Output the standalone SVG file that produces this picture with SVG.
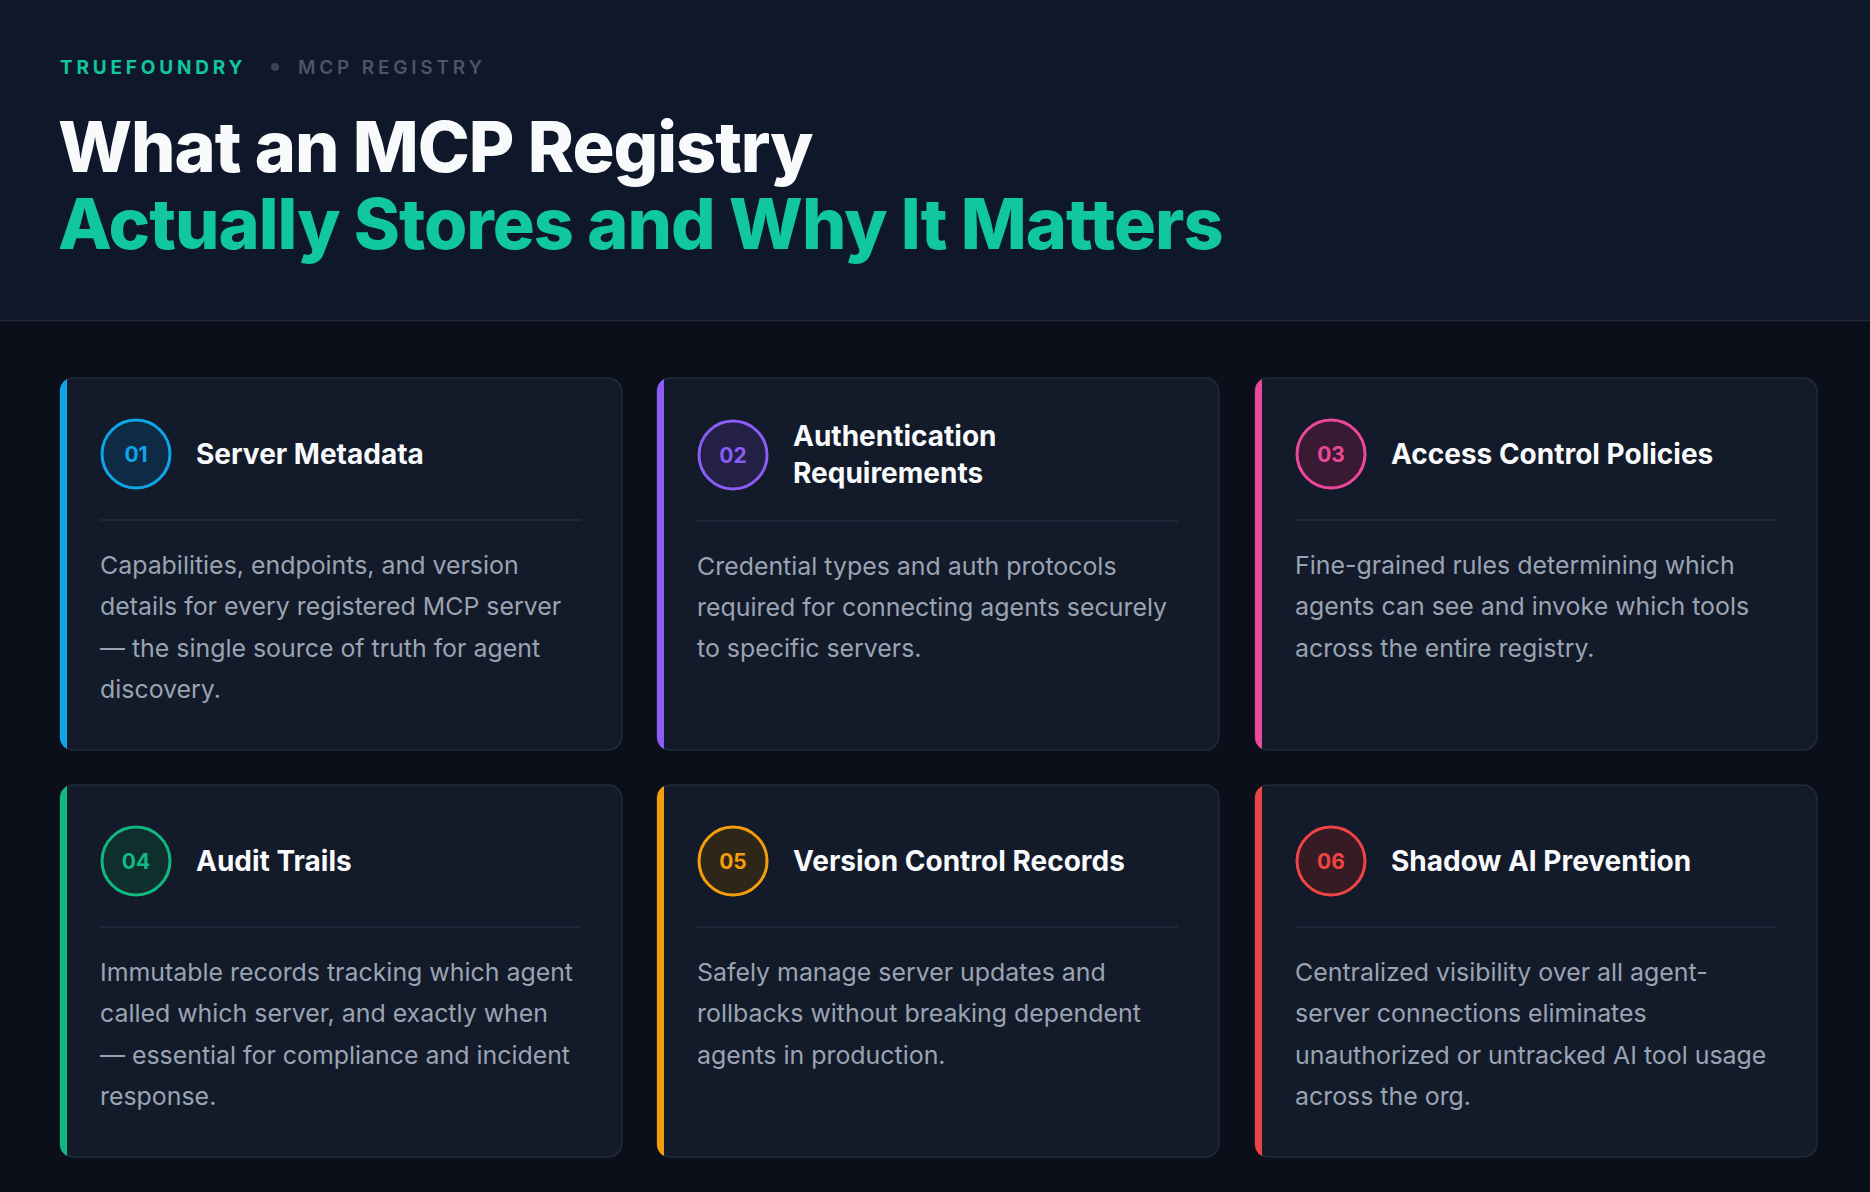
<svg xmlns="http://www.w3.org/2000/svg" width="1870" height="1192" viewBox="0 0 1870 1192">
<style>
text{font-family:Inter,"Liberation Sans",sans-serif}
.card{fill:#131a2a;stroke:#222b3b;stroke-width:1.5}
.t{fill:#f8fafc;font-size:28px;font-weight:700}
.b{fill:#9aa3b2;font-size:24.9px}
.n{font-size:21px;font-weight:700;text-anchor:middle}
.div{stroke:#252e3e;stroke-width:1.5}
</style>
<rect width="1870" height="1192" fill="#0a0f1a"/>
<rect width="1870" height="320" fill="#0f172a"/>
<line x1="0" y1="320.5" x2="1870" y2="320.5" stroke="#222b3b" stroke-width="1.5"/>
<text x="60" y="74" font-size="19" font-weight="700" letter-spacing="3.8" fill="#10c79e">TRUEFOUNDRY</text>
<circle cx="275" cy="67" r="4" fill="#3a4354"/>
<text x="298" y="74" font-size="19" font-weight="600" letter-spacing="3.8" fill="#4b5565">MCP REGISTRY</text>
<text x="58" y="172" font-size="70" font-weight="800" fill="#f8fafc" letter-spacing="-1">What an MCP Registry</text>
<text x="58" y="249" font-size="70" font-weight="800" fill="#10c79e" letter-spacing="-1">Actually Stores and Why It Matters</text>

<g id="card1"><rect class="card" x="60" y="378" width="562" height="372" rx="14"/><path d="M67 379 A14 14 0 0 0 60 392 V736 A14 14 0 0 0 67 749 Z" fill="#0ea5e9"/>
<circle cx="136" cy="454" r="34" fill="#0f2a44" stroke="#0ea5e9" stroke-width="3"/><text class="n" x="136" y="462" fill="#0ea5e9">01</text>
<text class="t" x="196" y="464">Server Metadata</text><line class="div" x1="100" y1="520" x2="581" y2="520"/>
<text class="b" x="100" y="574">Capabilities, endpoints, and version</text><text class="b" x="100" y="615">details for every registered MCP server</text><text class="b" x="100" y="657">— the single source of truth for agent</text><text class="b" x="100" y="698">discovery.</text></g>

<g id="card2"><rect class="card" x="657" y="378" width="562" height="372" rx="14"/><path d="M664 379 A14 14 0 0 0 657 392 V736 A14 14 0 0 0 664 749 Z" fill="#8b5cf6"/>
<circle cx="733" cy="455" r="34" fill="#231f45" stroke="#8b5cf6" stroke-width="3"/><text class="n" x="733" y="463" fill="#8b5cf6">02</text>
<text class="t" x="793" y="446">Authentication</text><text class="t" x="793" y="483">Requirements</text><line class="div" x1="697" y1="521" x2="1178" y2="521"/>
<text class="b" x="697" y="575">Credential types and auth protocols</text><text class="b" x="697" y="616">required for connecting agents securely</text><text class="b" x="697" y="657">to specific servers.</text></g>

<g id="card3"><rect class="card" x="1255" y="378" width="562" height="372" rx="14"/><path d="M1262 379 A14 14 0 0 0 1255 392 V736 A14 14 0 0 0 1262 749 Z" fill="#ec4899"/>
<circle cx="1331" cy="454" r="34" fill="#3a1a33" stroke="#ec4899" stroke-width="3"/><text class="n" x="1331" y="462" fill="#ec4899">03</text>
<text class="t" x="1391" y="464">Access Control Policies</text><line class="div" x1="1295" y1="520" x2="1776" y2="520"/>
<text class="b" x="1295" y="574">Fine-grained rules determining which</text><text class="b" x="1295" y="615">agents can see and invoke which tools</text><text class="b" x="1295" y="657">across the entire registry.</text></g>

<g id="card4"><rect class="card" x="60" y="785" width="562" height="372" rx="14"/><path d="M67 786 A14 14 0 0 0 60 799 V1143 A14 14 0 0 0 67 1156 Z" fill="#10b981"/>
<circle cx="136" cy="861" r="34" fill="#0f2e2e" stroke="#10b981" stroke-width="3"/><text class="n" x="136" y="869" fill="#10b981">04</text>
<text class="t" x="196" y="871">Audit Trails</text><line class="div" x1="100" y1="927" x2="581" y2="927"/>
<text class="b" x="100" y="981">Immutable records tracking which agent</text><text class="b" x="100" y="1022">called which server, and exactly when</text><text class="b" x="100" y="1064">— essential for compliance and incident</text><text class="b" x="100" y="1105">response.</text></g>

<g id="card5"><rect class="card" x="657" y="785" width="562" height="372" rx="14"/><path d="M664 786 A14 14 0 0 0 657 799 V1143 A14 14 0 0 0 664 1156 Z" fill="#f59e0b"/>
<circle cx="733" cy="861" r="34" fill="#2e2619" stroke="#f59e0b" stroke-width="3"/><text class="n" x="733" y="869" fill="#f59e0b">05</text>
<text class="t" x="793" y="871">Version Control Records</text><line class="div" x1="697" y1="927" x2="1178" y2="927"/>
<text class="b" x="697" y="981">Safely manage server updates and</text><text class="b" x="697" y="1022">rollbacks without breaking dependent</text><text class="b" x="697" y="1064">agents in production.</text></g>

<g id="card6"><rect class="card" x="1255" y="785" width="562" height="372" rx="14"/><path d="M1262 786 A14 14 0 0 0 1255 799 V1143 A14 14 0 0 0 1262 1156 Z" fill="#ef4444"/>
<circle cx="1331" cy="861" r="34" fill="#361a24" stroke="#ef4444" stroke-width="3"/><text class="n" x="1331" y="869" fill="#ef4444">06</text>
<text class="t" x="1391" y="871">Shadow AI Prevention</text><line class="div" x1="1295" y1="927" x2="1776" y2="927"/>
<text class="b" x="1295" y="981">Centralized visibility over all agent-</text><text class="b" x="1295" y="1022">server connections eliminates</text><text class="b" x="1295" y="1064">unauthorized or untracked AI tool usage</text><text class="b" x="1295" y="1105">across the org.</text></g>
<g id="connectors"/>
</svg>
